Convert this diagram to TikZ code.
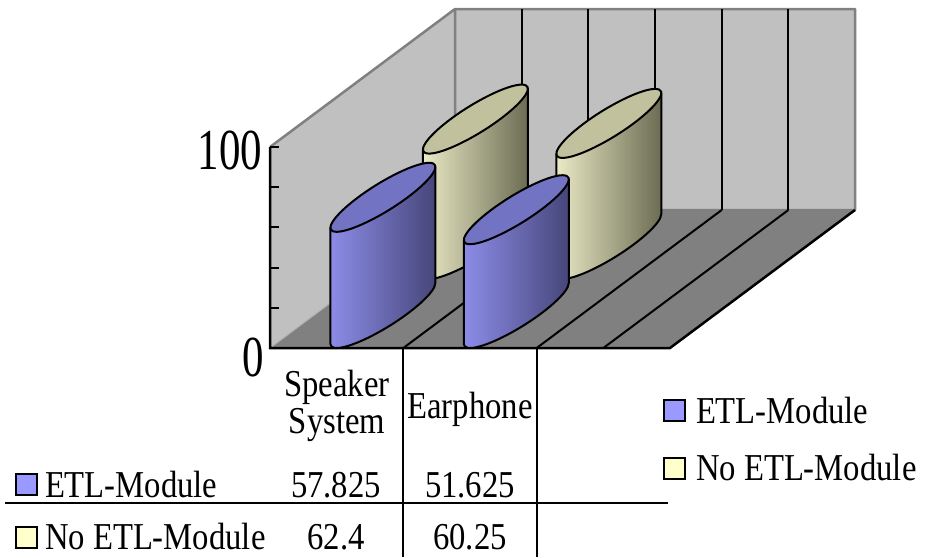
\documentclass[tikz,border=0pt]{standalone}
\usepackage{fontspec}
\setmainfont{Liberation Serif}[FakeStretch=0.86]
\newfontfamily\axisfont{Liberation Serif}[FakeStretch=0.74]
\usetikzlibrary{calc}

\definecolor{wallgray}{RGB}{192,192,192}
\definecolor{floorgray}{RGB}{128,128,128}
\definecolor{keyblue}{RGB}{153,153,255}
\definecolor{keyyellow}{RGB}{255,255,204}

\tikzset{
  bluside/.style={left color={rgb,255:red,140;green,140;blue,232},
                  middle color={rgb,255:red,108;green,108;blue,190},
                  right color={rgb,255:red,70;green,70;blue,122}},
  blutop/.style={fill={rgb,255:red,115;green,115;blue,196}},
  yelside/.style={left color={rgb,255:red,234;green,234;blue,198},
                  middle color={rgb,255:red,194;green,194;blue,158},
                  right color={rgb,255:red,108;green,108;blue,84}},
  yeltop/.style={fill={rgb,255:red,193;green,193;blue,158}},
  wallline/.style={draw=floorgray, line width=2.5pt, line join=round},
  lbl/.style={font=\fontsize{38}{37}\selectfont, inner sep=0pt},
  axlbl/.style={font=\axisfont\fontsize{58}{60}\selectfont, inner sep=0pt},
  key/.style={draw=black, line width=2pt, minimum size=21pt, inner sep=0pt}
}

% #1 base centre, #2 height, #3 colour set
\newcommand{\drawcyl}[3]{%
  \begin{scope}[x={(24.8pt,0pt)}, y={(46.25pt,34.5pt)}]
    \path[#3side, draw=black, line width=2pt, line join=round]
      (#1) ++(241.8:1) arc[start angle=241.8, end angle=421.8, radius=1]
      -- ++(0pt,#2pt) -- ($(#1)+(0pt,#2pt)+(241.8:1)$) -- cycle;
    \path[#3top, draw=black, line width=2pt] ($(#1)+(0pt,#2pt)$) circle[radius=1];
  \end{scope}}

\begin{document}
\begin{tikzpicture}[x=1pt, y=-1pt, line width=2pt]
  \useasboundingbox (0,0) rectangle (925,557);
  \coordinate (o) at (270,348);
  \coordinate (ofr) at (670,348);
  \coordinate (tl) at (270,147);
  \coordinate (bl) at (455,210);
  \coordinate (br) at (855,210);
  \coordinate (btl) at (455,9);
  \coordinate (btr) at (855,9);
  % walls and floor
  \fill[wallgray] (o) -- (tl) -- (btl) -- (bl) -- cycle;
  \fill[wallgray] (bl) -- (btl) -- (btr) -- (br) -- cycle;
  \fill[floorgray] (o) -- (bl) -- (br) -- (ofr) -- cycle;
  \draw[wallline] (tl) -- (btl) -- (btr) -- (br) -- (bl) -- (btl);
  \draw[gray!60, line width=1pt] (o) -- (bl);
  \foreach \k in {1,...,5} {
    \draw ($(bl)+(\k*66.67,0)$) -- ($(btl)+(\k*66.67,0)$);
    \draw ($(o)+(\k*66.67,0)$) -- ($(bl)+(\k*66.67,0)$);
  }
  \draw[line width=2.5pt] (br) -- (ofr) -- (o) -- (tl);
  \foreach \v in {0,...,5}
    \draw (270,{348-\v*40.2}) -- ++(9,0);
  % cylinders
  \coordinate (ny1) at (475.4,244.5);
  \coordinate (ny2) at (608.8,244.5);
  \coordinate (e1) at (382.9,313.5);
  \coordinate (e2) at (516.3,313.5);
  \drawcyl{ny1}{125.4}{yel}
  \drawcyl{ny2}{121.1}{yel}
  \drawcyl{e1}{116.2}{blu}
  \drawcyl{e2}{103.8}{blu}
  % axis labels
  \node[axlbl, anchor=base east] (y100) at (263,169) {100};
  \node[axlbl, anchor=base east] (y0) at (265,376) {0};
  % data table
  \draw (403,348) -- (403,557);
  \draw (537,348) -- (537,557);
  \draw (5,503) -- (668,503);
  \node[lbl, align=center] (cat1) at (337,406) {Speaker\\System};
  \node[lbl, anchor=base] (cat2) at (470,418) {Earphone};
  \node[key, fill=keyblue] (rk1) at (26,484) {};
  \node[lbl, anchor=base west] (row1) at (44,497) {ETL-Module};
  \node[key, fill=keyyellow] (rk2) at (26,537) {};
  \node[lbl, anchor=base west] (row2) at (44,549) {No ETL-Module};
  \node[lbl, anchor=base] (v11) at (336,497) {57.825};
  \node[lbl, anchor=base] (v12) at (470,497) {51.625};
  \node[lbl, anchor=base] (v21) at (336,549) {62.4};
  \node[lbl, anchor=base] (v22) at (470,549) {60.25};
  % legend
  \node[key, fill=keyblue] (lk1) at (674,410) {};
  \node[lbl, anchor=base west] (leg1) at (695,423) {ETL-Module};
  \node[key, fill=keyyellow] (lk2) at (674,468) {};
  \node[lbl, anchor=base west] (leg2) at (695,480) {No ETL-Module};
\end{tikzpicture}
\end{document}
